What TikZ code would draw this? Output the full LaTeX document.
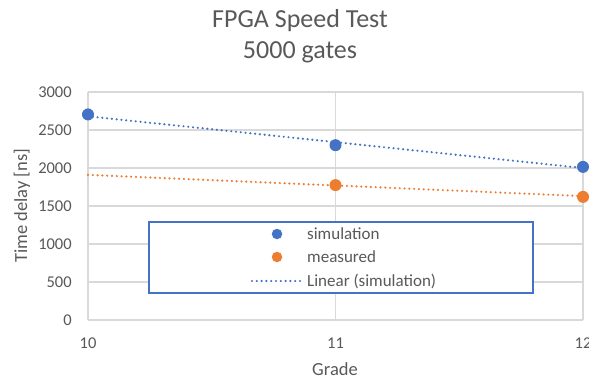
\documentclass[tikz,border=0pt]{standalone}
\usepackage{fontspec}
\setmainfont{Carlito}
\definecolor{txt}{HTML}{595959}
\definecolor{grid}{HTML}{D9D9D9}
\definecolor{sim}{HTML}{4472C4}
\definecolor{meas}{HTML}{ED7D31}
\tikzset{
  ticklbl/.style={text=txt,font=\fontsize{16.5}{19}\selectfont,inner sep=0pt},
  axtitle/.style={text=txt,font=\fontsize{18.5}{22}\selectfont,inner sep=0pt},
  gridline/.style={draw=grid,line width=1.2pt},
  simdot/.style={circle,fill=sim,inner sep=0pt,minimum size=12pt},
  measdot/.style={circle,fill=meas,inner sep=0pt,minimum size=12pt},
  trendline/.style={line width=2.4pt,line cap=round,dash pattern=on 0pt off 4.8pt},
  legtext/.style={text=txt,font=\fontsize{17}{20}\selectfont,inner sep=0pt,anchor=west}
}
\begin{document}
\begin{tikzpicture}[x=1pt,y=-1pt]
\useasboundingbox[fill=white] (0,0) rectangle (589,381);
% title
\node[text=txt,font=\fontsize{26}{30.5}\selectfont,align=center,inner sep=0pt] (title) at (300,36) {FPGA Speed Test\\5000 gates};
% plot area
\begin{scope}[shift={(88,320)},x=247.5pt,y=0.076pt]
  \foreach \v in {0,500,...,3000} {
    \draw[gridline] (0,\v) -- (2,\v);
    \node[ticklbl,anchor=east] (yl\v) at (-0.065,\v) {\v};
  }
  \foreach \g/\lab in {0/10,1/11,2/12} {
    \draw[gridline] (\g,0) -- (\g,3000);
    \node[ticklbl] (xl\lab) at (\g,-300) {\lab};
  }
  % trend lines
  \coordinate (ts0) at (0,2680);
  \coordinate (ts2) at (2,2000);
  \coordinate (tm0) at (0,1910);
  \coordinate (tm2) at (2,1630);
  \draw[trendline,sim] (ts0) -- (ts2);
  \draw[trendline,meas] (tm0) -- (tm2);
  % data
  \node[simdot] (s10) at (0,2705) {};
  \node[simdot] (s11) at (1,2300) {};
  \node[simdot] (s12) at (2,2015) {};
  \node[measdot] (m11) at (1,1775) {};
  \node[measdot] (m12) at (2,1620) {};
\end{scope}
% axis titles
\node[axtitle,rotate=90] (ytitle) at (22,206) {Time delay [ns]};
\node[axtitle] (xtitle) at (335,369) {Grade};
% legend
\node[draw=sim,line width=1.2pt,fill=white,minimum width=384pt,minimum height=71pt,inner sep=0pt] (legend) at (341,257.5) {};
\node[simdot,minimum size=10.5pt] (lg1) at (277,234) {};
\node[measdot,minimum size=10.5pt] (lg2) at (277,257) {};
\coordinate (lga) at (252,281);
\coordinate (lgb) at (302,281);
\draw[trendline,sim] (lga) -- (lgb);
\node[legtext] (lt1) at (307,234) {simulation};
\node[legtext] (lt2) at (307,257) {measured};
\node[legtext] (lt3) at (307,281) {Linear (simulation)};
\end{tikzpicture}
\end{document}
